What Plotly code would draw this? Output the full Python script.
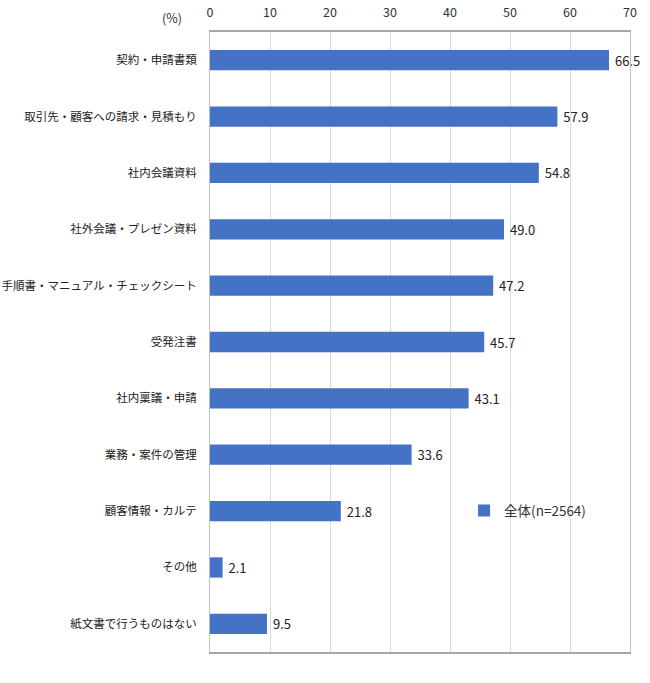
import plotly.graph_objects as go

categories = [
    "契約・申請書類",
    "取引先・顧客への請求・見積もり",
    "社内会議資料",
    "社外会議・プレゼン資料",
    "手順書・マニュアル・チェックシート",
    "受発注書",
    "社内稟議・申請",
    "業務・案件の管理",
    "顧客情報・カルテ",
    "その他",
    "紙文書で行うものはない",
]
values = [66.5, 57.9, 54.8, 49.0, 47.2, 45.7, 43.1, 33.6, 21.8, 2.1, 9.5]
series_name = "全体(n=2564)"
x_ticks = [0, 10, 20, 30, 40, 50, 60, 70]

FONT = "Noto Sans CJK JP, Meiryo, sans-serif"

fig = go.Figure()
fig.add_trace(go.Bar(
    y=categories,
    x=values,
    orientation="h",
    name=series_name,
    marker=dict(color="#4472C4", line=dict(width=0)),
    text=[f" {v:.1f}" for v in values],
    textposition="outside",
    textfont=dict(size=13, color="#222222", family=FONT),
    cliponaxis=False,
    showlegend=True,
))

fig.update_layout(
    width=650, height=683,
    margin=dict(l=210, r=20, t=32, b=31),
    paper_bgcolor="white",
    plot_bgcolor="white",
    font=dict(family=FONT, size=12, color="#333333"),
    bargap=0.64,
    showlegend=True,
    legend=dict(
        x=0.605, y=0.228, xanchor="left", yanchor="middle",
        bgcolor="rgba(0,0,0,0)",
        font=dict(size=13.5, color="#333333", family=FONT),
        itemwidth=30,
    ),
    xaxis=dict(
        side="top",
        range=[0, 70],
        tickvals=x_ticks,
        ticktext=[str(t) for t in x_ticks],
        showgrid=True,
        gridcolor="#D9D9D9",
        gridwidth=1,
        zeroline=False,
        showline=True,
        linecolor="#A6A6A6",
        linewidth=1.5,
        mirror=True,
        ticks="outside",
        ticklen=8,
        tickcolor="rgba(0,0,0,0)",
        tickfont=dict(size=12.5, color="#333333"),
        automargin=False,
    ),
    yaxis=dict(
        autorange="reversed",
        showgrid=False,
        showline=True,
        linecolor="#BFBFBF",
        linewidth=1,
        mirror=True,
        ticks="outside",
        ticklen=10,
        tickcolor="rgba(0,0,0,0)",
        tickfont=dict(size=11.5, color="#222222"),
        automargin=False,
    ),
)

fig.add_annotation(
    text="(%)", xref="paper", yref="paper",
    x=(172 - 210) / 420, y=(683 - 31 - 17) / 620,
    xanchor="center", yanchor="middle", showarrow=False,
    font=dict(size=12.5, color="#333333"),
)

fig.write_html("out.html")
